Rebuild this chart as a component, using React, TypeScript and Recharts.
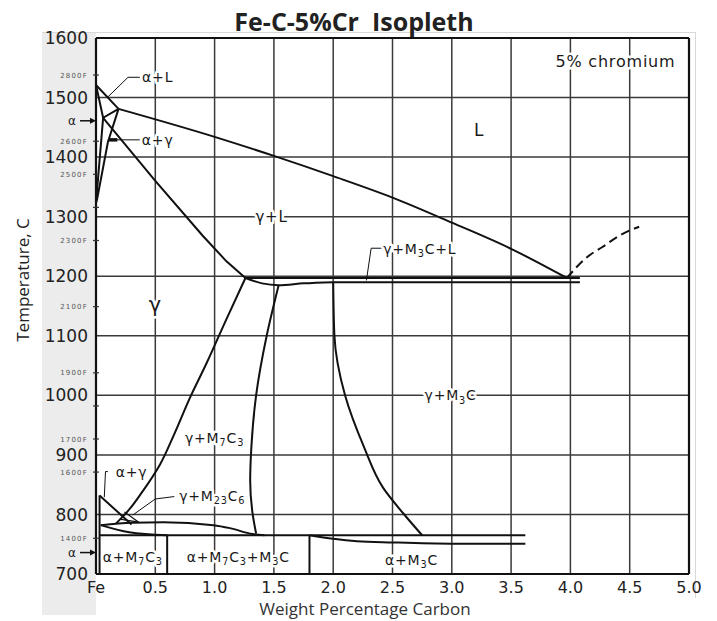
import React from "react";
import { LineChart, Line, XAxis, YAxis, ReferenceLine, ReferenceDot } from "recharts";

type Pt = { x: number; t: number };
const P = (a: number[][]): Pt[] => a.map(([x, t]) => ({ x, t }));

// axes
const xTicks = [0, 0.5, 1, 1.5, 2, 2.5, 3, 3.5, 4, 4.5, 5];
const cTicks = [700, 800, 900, 1000, 1100, 1200, 1300, 1400, 1500, 1600];
const fLabels = [2800, 2600, 2500, 2300, 2100, 1900, 1700, 1600, 1400];
const fMarks = [2400, 1800];
const toC = (f: number) => ((f - 32) * 5) / 9;

// phase boundaries (wt% C, deg C)
const deltaLiquidus = P([[0, 1521], [0.19, 1481]]);
const liquidus = P([[0.19, 1481], [1.0, 1434], [1.5, 1402], [2.0, 1368], [2.5, 1332], [3.0, 1290], [3.5, 1246], [3.97, 1197]]);
const liquidusDashed = P([[3.97, 1197], [4.14, 1232], [4.27, 1249], [4.42, 1269], [4.58, 1283]]);
const deltaSolidus = P([[0, 1521], [0.06, 1466], [0.19, 1481]]);
const alphaLimit = P([[0.06, 1466], [0, 1323]]);
const gammaLimitTop = P([[0.19, 1481], [0.1, 1425], [0.01, 1330], [0, 1323]]);
const gammaSolidus = P([[0.06, 1466], [0.5, 1360], [0.9, 1268], [1.1, 1225], [1.26, 1197]]);
const eutecticUpper = P([[1.26, 1197], [4.08, 1197]]);
const eutecticLowerCurve = P([[1.26, 1197], [1.4, 1188], [1.54, 1185], [1.75, 1188], [2.0, 1190]]);
const eutecticLower = P([[2.0, 1190], [4.08, 1190]]);
const gammaM7C3 = P([[1.26, 1197], [1.1, 1128], [0.93, 1053], [0.79, 995], [0.66, 935], [0.54, 884], [0.39, 838], [0.27, 806], [0.17, 785]]);
const m7c3M3C = P([[1.54, 1185], [1.44, 1101], [1.35, 1000], [1.31, 913], [1.3, 857], [1.32, 802], [1.35, 768]]);
const gammaM3C = P([[2.0, 1190], [2.01, 1101], [2.1, 1000], [2.26, 913], [2.42, 845], [2.59, 802], [2.75, 765]]);
const eutectoidUpper = P([[0.04, 782], [0.3, 786], [0.57, 787], [0.99, 782], [1.13, 777], [1.32, 767], [1.42, 765]]);
const eutectoidLine = P([[0.03, 765], [3.62, 765]]);
const eutectoidLowerLeft = P([[0.04, 782], [0.28, 770], [0.6, 765]]);
const eutectoidLowerRight = P([[1.8, 765], [2.0, 759], [2.2, 755], [2.5, 753], [3.0, 751], [3.62, 751]]);
const boxLeft = P([[0.03, 832], [0.03, 700]]);
const boxMid1 = P([[0.6, 765], [0.6, 700]]);
const boxMid2 = P([[1.8, 765], [1.8, 700]]);
const alphaGammaLow = P([[0.03, 832], [0.3, 783]]);
const m23c6a = P([[0.24, 804], [0.36, 787]]);
const m23c6b = P([[0.2, 792], [0.36, 787]]);

// label leaders
const leadAL = P([[0.37, 1534], [0.27, 1534], [0.1, 1501]]);
const leadAG = P([[0.37, 1429], [0.11, 1429]]);
const leadAGDash = P([[0.11, 1429], [0.18, 1429]]);
const leadGML = P([[2.42, 1247], [2.32, 1247], [2.28, 1193]]);
const leadAGLow = P([[0.1, 872], [0.08, 872], [0.07, 829]]);
const leadM23 = P([[0.66, 830], [0.5, 826], [0.31, 799]]);

const series = [
  { d: deltaLiquidus, c: "linear" },
  { d: liquidus, c: "monotoneX" },
  { d: liquidusDashed, c: "monotoneX", dash: "9 5" },
  { d: deltaSolidus, c: "linear" },
  { d: alphaLimit, c: "linear" },
  { d: gammaLimitTop, c: "linear" },
  { d: gammaSolidus, c: "linear" },
  { d: eutecticUpper, c: "linear" },
  { d: eutecticLowerCurve, c: "monotoneX" },
  { d: eutecticLower, c: "linear" },
  { d: gammaM7C3, c: "monotoneY" },
  { d: m7c3M3C, c: "monotoneY" },
  { d: gammaM3C, c: "monotoneY" },
  { d: eutectoidUpper, c: "monotoneX" },
  { d: eutectoidLine, c: "linear" },
  { d: eutectoidLowerLeft, c: "monotoneX" },
  { d: eutectoidLowerRight, c: "monotoneX" },
  { d: boxLeft, c: "linear" },
  { d: boxMid1, c: "linear" },
  { d: boxMid2, c: "linear" },
  { d: alphaGammaLow, c: "linear" },
  { d: m23c6a, c: "linear", w: 1.2 },
  { d: m23c6b, c: "linear", w: 1.2 },
  { d: leadAL, c: "linear", w: 1 },
  { d: leadAG, c: "linear", w: 1 },
  { d: leadAGDash, c: "linear", w: 3.5 },
  { d: leadGML, c: "linear", w: 1 },
  { d: leadAGLow, c: "linear", w: 1 },
  { d: leadM23, c: "linear", w: 1 },
];

// region labels
const labels = [
  { x: 4.38, t: 1561, s: "5% chromium", f: 16 },
  { x: 3.23, t: 1446, s: "L", f: 17 },
  { x: 1.48, t: 1299, s: "γ+L", f: 15 },
  { x: 0.5, t: 1152, s: "γ", f: 21 },
  { x: 2.73, t: 1246, s: "γ+M_3C+L", f: 14 },
  { x: 2.99, t: 1000, s: "γ+M_3C", f: 14 },
  { x: 1.0, t: 928, s: "γ+M_7C_3", f: 14 },
  { x: 0.98, t: 831, s: "γ+M_23C_6", f: 14 },
  { x: 0.3, t: 871, s: "α+γ", f: 14 },
  { x: 0.31, t: 729, s: "α+M_7C_3", f: 14 },
  { x: 1.2, t: 729, s: "α+M_7C_3+M_3C", f: 14 },
  { x: 2.66, t: 724, s: "α+M_3C", f: 14 },
  { x: 0.52, t: 1534, s: "α+L", f: 14 },
  { x: 0.52, t: 1429, s: "α+γ", f: 14 },
];
const arrows = [
  { x: 0, t: 1461, s: "α" },
  { x: 0, t: 736, s: "α" },
];

const FONT = "DejaVu Sans";

function Rich({ x, y, s, f }: { x: number; y: number; s: string; f: number }) {
  const parts = s.split(/(_\d+)/).filter(Boolean);
  let sub = false;
  return (
    <text x={x} y={y} textAnchor="middle" dominantBaseline="central" fontFamily={FONT} fontSize={f} fill="#1a1a1a"
      stroke="#fff" strokeWidth={5} paintOrder="stroke" strokeLinejoin="round" letterSpacing={0.8}>
      {parts.map((p, i) => {
        if (p.startsWith("_")) {
          sub = true;
          return <tspan key={i} dy={f * 0.3} fontSize={f * 0.7}>{p.slice(1)}</tspan>;
        }
        const dy = sub ? -f * 0.3 : 0;
        sub = false;
        return <tspan key={i} dy={dy}>{p}</tspan>;
      })}
    </text>
  );
}

const YTick = (props: any) => {
  const { x, y, payload } = props;
  const v = payload.value;
  if (cTicks.includes(v)) {
    return <text x={x} y={y} dy="0.36em" textAnchor="end" fontFamily={FONT} fontSize={17} fill="#222">{v}</text>;
  }
  const f = [...fLabels, ...fMarks].find((q) => Math.abs(toC(q) - v) < 0.01) as number;
  return (
    <g>
      <line x1={x + 5} x2={x + 11} y1={y} y2={y} stroke="#333" strokeWidth={1.2} />
      {fLabels.includes(f) && (
        <text x={x} y={y} dy="0.36em" textAnchor="end" fontFamily={FONT} fontSize={7} letterSpacing={1.2} fill="#555">{f}F</text>
      )}
    </g>
  );
};

export default function App() {
  return (
    <div style={{ position: "absolute", left: 0, top: 0, width: 717, height: 621, background: "#fff", overflow: "hidden" }}>
      <div style={{ position: "absolute", left: 42, top: 32, width: 54, height: 583, background: "#ececec" }} />
      <div style={{ position: "absolute", left: 42, top: 32, width: 653, height: 0, borderTop: "1px solid #d8d8d8" }} />
      <div style={{ position: "absolute", left: 695, top: 32, width: 0, height: 566, borderLeft: "1px solid #d8d8d8" }} />
      <div style={{ position: "absolute", left: 0, top: 0 }}>
        <LineChart width={717} height={621} margin={{ top: 38, right: 28, bottom: 0, left: 0 }}>
          <XAxis dataKey="x" type="number" domain={[0, 5]} ticks={xTicks} height={47} axisLine={false} tickLine={false}
            tickSize={6} tickMargin={2} allowDataOverflow
            tickFormatter={(v: number) => (v === 0 ? "Fe" : v.toFixed(1))}
            tick={{ fontFamily: FONT, fontSize: 16, fill: "#222" }} />
          <YAxis type="number" domain={[700, 1600]} allowDataOverflow width={96} axisLine={false} tickLine={false}
            tickSize={0} tickMargin={8} ticks={[...cTicks, ...fLabels.map(toC), ...fMarks.map(toC)]} tick={<YTick />} interval={0} />
          {xTicks.slice(1, -1).map((v) => (
            <ReferenceLine key={"vx" + v} x={v} stroke="#3a3a3a" strokeWidth={1.5} />
          ))}
          {cTicks.slice(1, -1).map((v) => (
            <ReferenceLine key={"hy" + v} y={v} stroke="#3a3a3a" strokeWidth={1.5} />
          ))}
          <ReferenceLine x={0} stroke="#111" strokeWidth={2.2} />
          <ReferenceLine x={5} stroke="#111" strokeWidth={2.2} />
          <ReferenceLine y={700} stroke="#111" strokeWidth={2.2} />
          <ReferenceLine y={1600} stroke="#111" strokeWidth={2.2} />
          {labels.map((l, i) => (
            <ReferenceDot key={"lb" + i} x={l.x} y={l.t} r={0}
              shape={(p: any) => <Rich x={p.cx} y={p.cy} s={l.s} f={l.f} />} />
          ))}
          {arrows.map((a, i) => (
            <ReferenceDot key={"ar" + i} x={a.x} y={a.t} r={0}
              shape={(p: any) => (
                <g>
                  <text x={p.cx - 24} y={p.cy} textAnchor="middle" dominantBaseline="central" fontFamily={FONT} fontSize={12} fill="#222">{a.s}</text>
                  <line x1={p.cx - 16} x2={p.cx - 4} y1={p.cy} y2={p.cy} stroke="#111" strokeWidth={1.5} />
                  <polygon points={`${p.cx},${p.cy} ${p.cx - 6},${p.cy - 3} ${p.cx - 6},${p.cy + 3}`} fill="#111" />
                </g>
              )} />
          ))}
          {series.map((s, i) => (
            <Line key={"s" + i} data={s.d} dataKey="t" type={s.c as any} stroke="#111" strokeWidth={s.w ?? 2}
              strokeDasharray={s.dash} dot={false} activeDot={false} isAnimationActive={false} />
          ))}
        </LineChart>
      </div>
      <svg width={717} height={621} style={{ position: "absolute", left: 0, top: 0, pointerEvents: "none" }}>
        <text x={354} y={31} textAnchor="middle" fontFamily="Open Sans" fontWeight="bold" fontSize={25} fill="#222">Fe-C-5%Cr{"\u00a0\u00a0"}Isopleth</text>
        <text x={0} y={0} transform="translate(29,280) rotate(-90)" textAnchor="middle" fontFamily="Open Sans" fontSize={17} fill="#222">Temperature, C</text>
        <text x={365} y={615} textAnchor="middle" fontFamily="Open Sans" fontSize={17} fill="#333">Weight Percentage Carbon</text>
      </svg>
    </div>
  );
}
